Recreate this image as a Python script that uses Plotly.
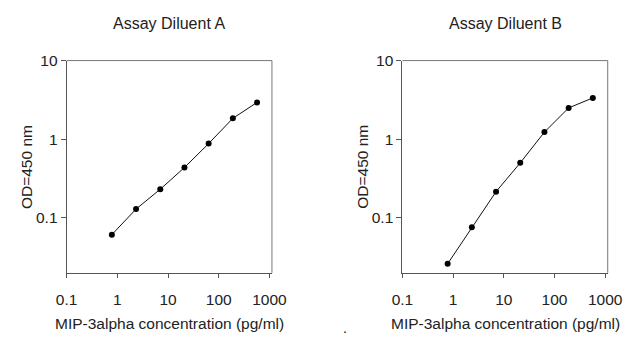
import plotly.graph_objects as go

conc = [0.78, 2.34, 7.03, 21.1, 63.3, 190, 570]
od_a = [0.061, 0.129, 0.231, 0.436, 0.88, 1.84, 2.94]
od_b = [0.026, 0.076, 0.215, 0.50, 1.23, 2.5, 3.35]
titles = ["Assay Diluent A", "Assay Diluent B"]
x_ticks = [0.1, 1, 10, 100, 1000]
x_ticktext = ["0.1", "1", "10", "100", "1000"]
y_ticks = [0.1, 1, 10]
y_ticktext = ["0.1", "1", "10"]
x_title = "MIP-3alpha concentration (pg/ml)"
y_title = "OD=450 nm"

W, H = 640, 339
FONT = "Liberation Sans, Arial, sans-serif"
FS = 15.5

fig = go.Figure()
for i, od in enumerate([od_a, od_b]):
    fig.add_trace(go.Scatter(
        x=conc, y=od, mode="lines+markers",
        line=dict(color="#111111", width=1),
        marker=dict(color="#000000", size=6),
        xaxis="x" if i == 0 else "x2", yaxis="y" if i == 0 else "y2",
        showlegend=False, hoverinfo="x+y"))

ydom = [(H - 271) / H, (H - 53) / H]
xdoms = [[58 / W, 272 / W], [408 / W, 622 / W]]

axis_common = dict(type="log", showgrid=False, zeroline=False, showline=True,
                   linecolor="#555555", linewidth=1, ticks="outside",
                   tickcolor="#555555", ticklen=4,
                   tickfont=dict(family=FONT, size=FS, color="#222222"))

layout = dict(width=W, height=H, margin=dict(l=0, r=0, t=0, b=0),
              plot_bgcolor="white", paper_bgcolor="white", showlegend=False)
for i in range(2):
    sx = "" if i == 0 else "2"
    layout["xaxis" + sx] = dict(axis_common, domain=xdoms[i], range=[-1.0, 3.05],
                                tickvals=x_ticks, ticktext=x_ticktext,
                                anchor="y" + sx, ticklabelstandoff=9)
    layout["yaxis" + sx] = dict(axis_common, domain=ydom, range=[-1.7, 1.0],
                                tickvals=y_ticks, ticktext=y_ticktext,
                                anchor="x" + sx, ticklen=5)
fig.update_layout(**layout)

anns = []
shapes = []
for i in range(2):
    cx = (xdoms[i][0] + xdoms[i][1]) / 2
    anns.append(dict(text=titles[i], x=cx, y=1 - 15 / H, xref="paper", yref="paper",
                     showarrow=False, xanchor="center", yanchor="middle",
                     font=dict(family=FONT, size=16, color="#222222")))
    anns.append(dict(text=x_title, x=cx, y=1 - 323 / H, xref="paper", yref="paper",
                     showarrow=False, xanchor="center", yanchor="middle",
                     font=dict(family=FONT, size=FS, color="#222222")))
    yx = 16 if i == 0 else 367
    anns.append(dict(text=y_title, x=yx / W, y=1 - 162 / H, xref="paper", yref="paper",
                     showarrow=False, textangle=-90, xanchor="center", yanchor="middle",
                     font=dict(family=FONT, size=FS, color="#222222")))
    sx = "x" if i == 0 else "x2"
    sy = "y" if i == 0 else "y2"
    shapes.append(dict(type="line", xref=sx + " domain", yref=sy + " domain",
                       x0=0, x1=1, y0=1, y1=1, line=dict(color="#777777", width=1)))
    shapes.append(dict(type="line", xref=sx + " domain", yref=sy + " domain",
                       x0=1, x1=1, y0=0, y1=1, line=dict(color="#777777", width=1)))
anns.append(dict(text=".", x=348 / W, y=1 - 328 / H, xref="paper", yref="paper",
                 showarrow=False, xanchor="center", yanchor="middle",
                 font=dict(family=FONT, size=14, color="#111111")))
fig.update_layout(annotations=anns, shapes=shapes)

fig.write_html("out.html")
